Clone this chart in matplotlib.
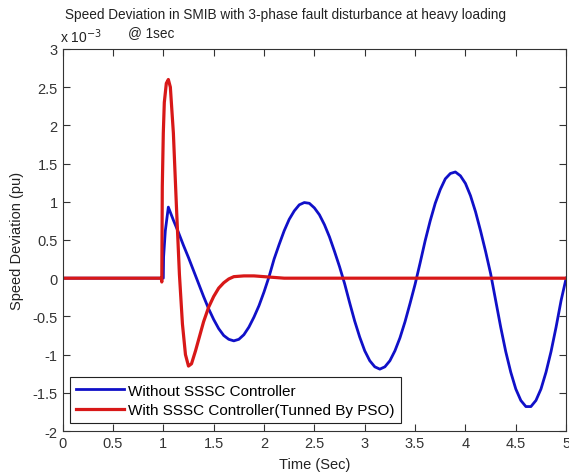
import numpy as np
import matplotlib
matplotlib.use('Agg')
import matplotlib.pyplot as plt

plt.rcParams['font.family'] = ['Liberation Sans', 'DejaVu Sans']

# speed deviation, in units of 1e-3 pu
t_blue = [0.0, 1.0, 1.003, 1.02, 1.05, 1.10, 1.15, 1.20, 1.25, 1.30, 1.35, 1.40, 1.45,
          1.50, 1.55, 1.60, 1.65, 1.70, 1.75, 1.80, 1.85, 1.90, 1.95, 2.00, 2.05,
          2.10, 2.15, 2.20, 2.25, 2.30, 2.35, 2.40, 2.45, 2.50, 2.55, 2.60, 2.65,
          2.70, 2.75, 2.80, 2.85, 2.90, 2.95, 3.00, 3.05, 3.10, 3.15, 3.20, 3.25,
          3.30, 3.35, 3.40, 3.45, 3.50, 3.55, 3.60, 3.65, 3.70, 3.75, 3.80, 3.85,
          3.90, 3.95, 4.00, 4.05, 4.10, 4.15, 4.20, 4.25, 4.30, 4.35, 4.40, 4.45,
          4.50, 4.55, 4.60, 4.65, 4.70, 4.75, 4.80, 4.85, 4.90, 4.95, 5.00]
w_blue = [0.0, 0.0, 0.28, 0.62, 0.93, 0.76, 0.60, 0.43, 0.27, 0.10, -0.07, -0.24, -0.40,
          -0.54, -0.66, -0.75, -0.80, -0.82, -0.80, -0.74, -0.64, -0.51, -0.36, -0.18, 0.02,
          0.25, 0.44, 0.62, 0.77, 0.88, 0.96, 0.99, 0.98, 0.92, 0.83, 0.70, 0.54,
          0.35, 0.15, -0.07, -0.32, -0.56, -0.77, -0.95, -1.08, -1.16, -1.19, -1.16, -1.08,
          -0.95, -0.78, -0.57, -0.33, -0.08, 0.20, 0.49, 0.75, 0.98, 1.16, 1.30, 1.37,
          1.39, 1.34, 1.24, 1.08, 0.87, 0.62, 0.35, 0.06, -0.29, -0.64, -0.96, -1.23,
          -1.45, -1.60, -1.68, -1.68, -1.60, -1.45, -1.23, -0.96, -0.64, -0.29, 0.0]

t_red = [0.0, 0.98, 0.985, 0.99, 1.00, 1.01, 1.03, 1.05, 1.07, 1.10, 1.13, 1.16, 1.19,
         1.22, 1.25, 1.28, 1.32, 1.36, 1.40, 1.45, 1.50, 1.55, 1.60, 1.65, 1.70,
         1.80, 1.90, 2.00, 2.10, 2.20, 5.00]
w_red = [0.0, 0.0, -0.05, 1.2, 1.9, 2.3, 2.55, 2.6, 2.5, 1.9, 0.95, 0.05, -0.6,
         -1.0, -1.15, -1.12, -0.95, -0.76, -0.57, -0.38, -0.24, -0.13, -0.06, -0.01, 0.02,
         0.03, 0.03, 0.02, 0.01, 0.0, 0.0]

fig = plt.figure(figsize=(5.69, 4.77), dpi=100)
ax = fig.add_axes([0.110, 0.0943, 0.885, 0.801])

ax.plot(t_blue, w_blue, color='#1010c8', lw=2, label='Without SSSC Controller')
ax.plot(t_red, w_red, color='#d81818', lw=2.3, label='With SSSC Controller(Tunned By PSO)')

ax.set_xlim(0, 5)
ax.set_ylim(-2, 3)
ax.set_xticks(np.arange(0, 5.01, 0.5))
ax.set_yticks(np.arange(-2, 3.01, 0.5))
ax.set_xticklabels(['0', '0.5', '1', '1.5', '2', '2.5', '3', '3.5', '4', '4.5', '5'])
ax.set_yticklabels(['-2', '-1.5', '-1', '-0.5', '0', '0.5', '1', '1.5', '2', '2.5', '3'])
ax.tick_params(direction='in', top=True, right=True, length=5, labelsize=10.5,
               color='#333333', labelcolor='#333333')
for s in ax.spines.values():
    s.set_color('#333333')
    s.set_linewidth(0.8)

ax.set_xlabel('Time (Sec)', fontsize=10.5, color='#222222', labelpad=5)
ax.set_ylabel('Speed Deviation (pu)', fontsize=10.5, color='#222222', labelpad=6)

fig.text(65 / 569, 1 - 15 / 477,
         'Speed Deviation in SMIB with 3-phase fault disturbance at heavy loading',
         fontsize=9.8, color='#222222', ha='left', va='center')
fig.text(128 / 569, 1 - 33 / 477, '@ 1sec', fontsize=9.8, color='#222222',
         ha='left', va='center')
fig.text(60 / 569, 1 - 37 / 477, r'x 10$^{-3}$', fontsize=10, color='#222222',
         ha='left', va='center')

leg = ax.legend(loc='lower left', bbox_to_anchor=(0.015, 0.021), fontsize=11,
                fancybox=False, framealpha=1, borderpad=0.4, handlelength=3.1,
                handletextpad=0.3, borderaxespad=0, labelspacing=0.35)
leg.get_frame().set_edgecolor('#222222')
leg.get_frame().set_linewidth(0.8)

fig.savefig('out.png', dpi=100)
